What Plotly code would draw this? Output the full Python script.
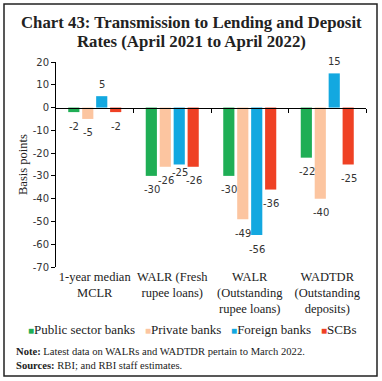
import plotly.graph_objects as go

categories = ["1-year median<br>MCLR", "WALR (Fresh<br>rupee loans)",
              "WALR<br>(Outstanding<br>rupee loans)", "WADTDR<br>(Outstanding<br>deposits)"]
series_names = ["Public sector banks", "Private banks", "Foreign banks", "SCBs"]
public_sector = [-2, -30, -30, -22]
private_banks = [-5, -26, -49, -40]
foreign_banks = [5, -25, -56, 15]
scbs = [-2, -26, -36, -25]
y_ticks = [20, 10, 0, -10, -20, -30, -40, -50, -60, -70]
y_tick_labels = [str(v) for v in y_ticks]
title_lines = ["Chart 43: Transmission to Lending and Deposit", "Rates (April 2021 to April 2022)"]

colors = ["#1fae55", "#fcc5a0", "#13a8e0", "#ef4124"]
series_values = [public_sector, private_banks, foreign_banks, scbs]

SERIF = "Liberation Serif"
SANS = "DejaVu Sans"

W, H = 382, 381
L, R, T, B = 56, 16, 62, 114
PW, PH = W - L - R, H - T - B

def px_x(px):
    return (px - L) / PW

def px_y(py):
    return (H - B - py) / PH

fig = go.Figure()
for name, vals, col in zip(series_names, series_values, colors):
    fig.add_trace(go.Bar(x=list(range(len(categories))), y=vals, name=name,
                         marker=dict(color=col, line=dict(width=0)),
                         showlegend=False, hoverinfo="skip"))

# helper trace for the zero-line axis with boundary ticks
fig.add_trace(go.Scatter(x=[None], y=[None], xaxis="x2", showlegend=False, hoverinfo="skip"))

annotations = []
offsets = [-20.5, -6.5, 7.5, 21.5]
nudges = {(2, 1): 6}  # foreign banks label in WALR (Fresh) sits a little higher
for i, vals in enumerate(series_values):
    for j, v in enumerate(vals):
        ys = (12 if v > 0 else -14) + nudges.get((i, j), 0)
        annotations.append(dict(x=j, y=v, xref="x", yref="y", text=str(v), showarrow=False,
                                xshift=offsets[i], yshift=ys,
                                font=dict(family=SANS, size=10, color="#333333")))

legend_parts = []
for name, col in zip(series_names, colors):
    legend_parts.append(f'<span style="color:{col};font-size:10px">■</span>{name}')
annotations.append(dict(x=px_x(192), y=px_y(329), xref="paper", yref="paper",
                        text="   ".join(legend_parts), showarrow=False,
                        xanchor="center", yanchor="middle",
                        font=dict(family=SERIF, size=13, color="#222222")))

annotations.append(dict(x=px_x(14), y=px_y(344), xref="paper", yref="paper",
                        text="<b>Note:</b> Latest data on WALRs and WADTDR pertain to March 2022.<br>"
                             "<b>Sources:</b> RBI; and RBI staff estimates.",
                        showarrow=False, xanchor="left", yanchor="top", align="left",
                        font=dict(family=SERIF, size=10.6, color="#222222")))

# title (two lines)
for k, (line, yc) in enumerate(zip(title_lines, [22, 42])):
    annotations.append(dict(x=px_x(191), y=px_y(yc), xref="paper", yref="paper",
                            text=f"<b>{line}</b>", showarrow=False,
                            xanchor="center", yanchor="middle",
                            font=dict(family=SERIF, size=16.8, color="#222222")))

# y-axis title
annotations.append(dict(x=px_x(23), y=px_y(165), xref="paper", yref="paper",
                        text="Basis points", textangle=-90, showarrow=False,
                        xanchor="center", yanchor="middle",
                        font=dict(family=SERIF, size=12.5, color="#222222")))

fig.update_layout(
    width=W, height=H,
    margin=dict(l=L, r=R, t=T, b=B),
    paper_bgcolor="white", plot_bgcolor="white",
    barmode="group", bargap=0.28, bargroupgap=0.2,
    xaxis=dict(tickmode="array", tickvals=list(range(len(categories))), ticktext=categories,
               range=[-0.5, 3.5], showline=False, ticks="", showgrid=False, zeroline=False,
               tickfont=dict(family=SERIF, size=12.5, color="#222222")),
    xaxis2=dict(overlaying="x", anchor="free", position=70 / 90, range=[-0.5, 3.5],
                tickmode="array", tickvals=[0.5, 1.5, 2.5, 3.5], ticks="outside", ticklen=4,
                tickcolor="black", showline=True, linecolor="black", linewidth=1,
                showticklabels=False, showgrid=False, zeroline=False, side="bottom"),
    yaxis=dict(range=[-70, 20], tickmode="array", tickvals=y_ticks, ticktext=y_tick_labels,
               ticks="outside", ticklen=4,
               tickcolor="black", showline=True, linecolor="black", linewidth=1,
               showgrid=False, zeroline=False,
               tickfont=dict(family=SANS, size=10, color="#333333")),
    annotations=annotations,
    shapes=[dict(type="rect", xref="paper", yref="paper",
                 x0=px_x(4), x1=px_x(377), y0=px_y(376), y1=px_y(4),
                 line=dict(color="#222222", width=1.5), fillcolor="rgba(0,0,0,0)", layer="above")],
    showlegend=False,
)

fig.write_html("out.html", post_script="document.body.style.margin='0';",
               config={"displayModeBar": False})
